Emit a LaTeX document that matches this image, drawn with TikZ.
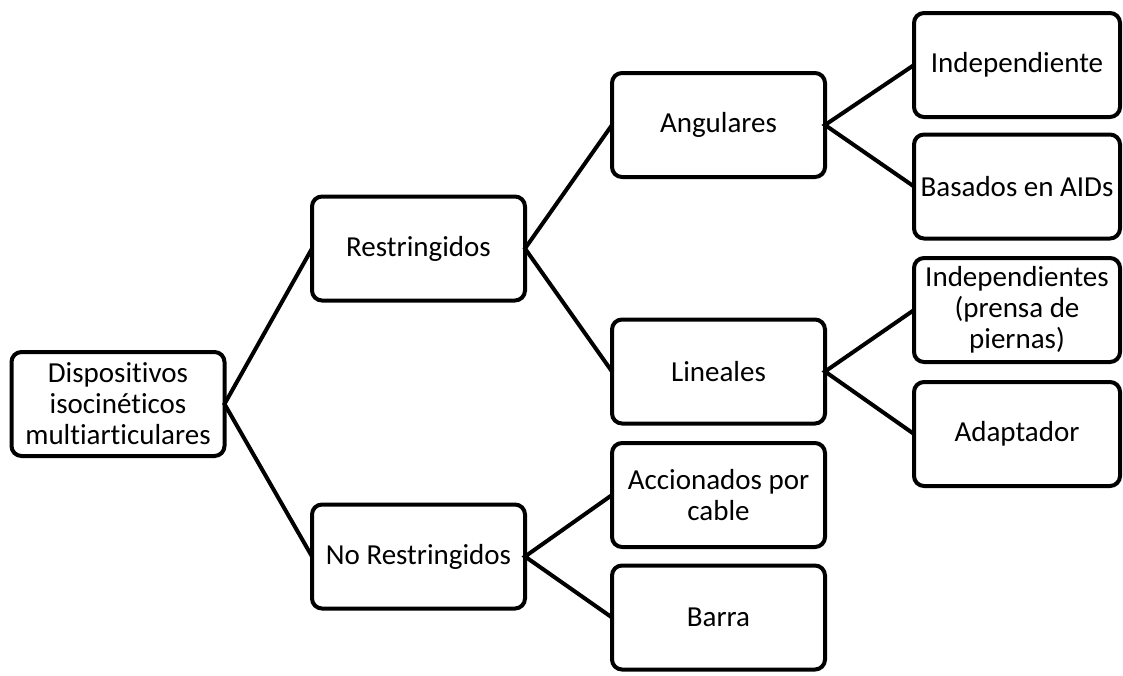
\documentclass[tikz,border=0pt]{standalone}
\usepackage{fontspec}
\setmainfont{Carlito}[Ligatures=NoCommon]
\usepackage{tikz}
\tikzstyle{box}=[rectangle,draw=black,line width=4pt,rounded corners=10pt,
                 fill=white,inner sep=0pt,outer sep=0pt,align=center,
                 minimum width=213pt,minimum height=104pt,
                 font=\fontsize{29}{31}\selectfont]
\tikzstyle{leaf}=[box,minimum width=206pt]
\tikzstyle{link}=[line width=4pt,line join=miter]

\begin{document}
\begin{tikzpicture}[x=1pt,y=-1pt]
    \useasboundingbox (0,0) rectangle (1123,675);
    % left column
    \node (root) at (118, 404) [box]{Dispositivos\\isocinéticos\\multiarticulares};
    % second column
    \node (restr)   at (418.5, 248.5) [box]{Restringidos};
    \node (norestr) at (418.5, 556.5) [box]{No Restringidos};
    % third column
    \node (ang)   at (718.5, 125)   [box]{Angulares};
    \node (lin)   at (718.5, 371.5) [box]{Lineales};
    \node (acc)   at (718.5, 495)   [box]{Accionados por\\cable};
    \node (barra) at (718.5, 617.5) [box]{Barra};
    % right column
    \node (indep)   at (1017, 65)    [leaf]{Independiente};
    \node (aids)    at (1017, 186.5) [leaf]{Basados en AIDs};
    \node (prensa)  at (1017, 310)   [leaf]{Independientes\\(prensa de\\piernas)};
    \node (adapt)   at (1017, 434)   [leaf]{Adaptador};
    \draw[link] (restr.west) -- (root.east) -- (norestr.west);
    \draw[link] (ang.west) -- (restr.east) -- (lin.west);
    \draw[link] (acc.west) -- (norestr.east) -- (barra.west);
    \draw[link] (indep.west) -- (ang.east) -- (aids.west);
    \draw[link] (prensa.west) -- (lin.east) -- (adapt.west);
  \end{tikzpicture}
\end{document}
